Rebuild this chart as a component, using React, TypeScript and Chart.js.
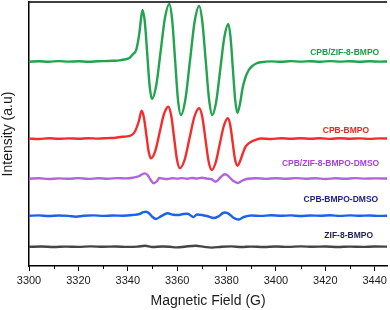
import React, { useEffect, useRef } from "react";
import { Chart, registerables } from "chart.js";

Chart.register(...registerables);

// ---- Data (Magnetic field in G, intensity in arbitrary offset units) ----
const xTicksMajor = [3300, 3320, 3340, 3360, 3380, 3400, 3420, 3440];
const xTicksMinor = [3310, 3330, 3350, 3370, 3390, 3410, 3430];

const cpbZifField = [3300, 3304, 3308, 3312, 3316, 3320, 3324, 3328, 3332, 3334, 3336.6, 3338.5, 3340.7, 3342, 3343.4, 3344.7, 3345.4, 3346, 3346.95, 3347.9, 3348.85, 3349.8, 3351.55, 3353.3, 3355.05, 3356.8, 3357.98, 3359.15, 3360.3, 3361.5, 3363.35, 3365.2, 3367.05, 3368.9, 3370.2, 3371.55, 3372.9, 3374.2, 3375.8, 3377.45, 3379.1, 3380.7, 3381.6, 3382.55, 3383.5, 3384.4, 3385.5, 3386.5, 3387.7, 3389, 3390.2, 3392, 3394, 3398, 3402, 3406, 3410, 3414, 3418, 3422, 3426, 3430, 3434, 3438, 3442, 3446];
const cpbZifSignal = [204.2, 204.8, 204.3, 204.9, 204.4, 204.7, 204.3, 204.8, 205.0, 205.2, 205.6, 206.5, 208, 211.5, 216, 233, 248, 256, 243, 211.5, 180, 167, 181, 214.5, 248, 262, 246, 206.5, 167, 151, 167, 205.5, 244, 260, 244, 205.5, 167, 151, 164.3, 196.5, 228.7, 242, 229, 197.5, 166, 153, 163, 178, 189, 196, 199.5, 202.5, 203.8, 204.6, 204.2, 204.9, 204.4, 204.8, 204.3, 204.9, 204.4, 204.8, 204.2, 204.7, 204.4, 204.6];

const cpbField = [3300, 3304, 3308, 3312, 3316, 3320, 3324, 3328, 3332, 3335, 3338, 3341.6, 3343, 3344.5, 3345.6, 3346.55, 3347.5, 3348.45, 3349.4, 3351.15, 3352.9, 3354.65, 3356.4, 3357.6, 3358.75, 3359.9, 3361.1, 3363.05, 3365, 3366.95, 3368.9, 3370.2, 3371.45, 3372.7, 3374, 3375.6, 3377.25, 3378.9, 3380.5, 3381.5, 3382.45, 3383.4, 3384.4, 3385.5, 3386.5, 3387.7, 3389.5, 3391.7, 3394, 3398, 3402, 3406, 3410, 3414, 3418, 3422, 3426, 3430, 3434, 3438, 3442, 3446];
const cpbSignal = [127.4, 127.0, 127.8, 127.2, 127.6, 127.3, 127.8, 127.4, 127.9, 128.3, 129.2, 131, 135, 145, 155.3, 148.3, 131.5, 114.6, 107.7, 115.2, 133.5, 151.8, 159.3, 150.3, 128.5, 106.7, 97.7, 106.5, 127.7, 149, 157.7, 148.7, 126.9, 105, 96, 103.5, 121.9, 140, 147.7, 140.8, 124, 107.2, 100.3, 105, 112, 119.3, 123.5, 126, 127.5, 127.0, 127.7, 127.2, 127.8, 127.3, 127.7, 127.1, 127.8, 127.3, 127.6, 127.1, 127.6, 127.4];

const cpbZifDmsoField = [3300, 3304, 3308, 3312, 3316, 3320, 3324, 3328, 3332, 3336, 3339, 3342, 3344.7, 3346, 3347, 3348, 3349.3, 3350.5, 3351.7, 3352.8, 3354.5, 3356, 3358, 3360, 3362, 3364, 3366, 3368, 3370, 3372, 3374, 3375.6, 3377.5, 3378.5, 3379.3, 3380.3, 3381.5, 3382.8, 3384.5, 3386.5, 3388.5, 3392, 3396, 3400, 3404, 3408, 3412, 3416, 3420, 3424, 3428, 3432, 3436, 3440, 3446];
const cpbZifDmsoSignal = [87.3, 87.8, 87.0, 87.6, 87.2, 87.9, 87.1, 87.7, 87.3, 87.9, 87.6, 88.3, 90, 92, 92.6, 91, 86, 82.7, 84.5, 88, 87.2, 87.0, 87.8, 87.4, 87.9, 87.2, 88.0, 87.5, 88.2, 87.4, 86.6, 84.3, 88.5, 90.8, 91.7, 90.8, 88, 85, 83, 85.5, 87.3, 87.8, 87.1, 87.8, 87.2, 87.9, 87.3, 87.7, 87.0, 87.8, 87.2, 87.9, 87.4, 87.6, 87.4];

const cpbDmsoField = [3300, 3304, 3308, 3312, 3316, 3319, 3322, 3326, 3330, 3334, 3338, 3342, 3344.7, 3346.3, 3347.4, 3348.5, 3349.8, 3351.4, 3353.5, 3356.1, 3358.5, 3360.8, 3362.5, 3364.2, 3366.6, 3368, 3370, 3372, 3374.9, 3377, 3378.3, 3379.3, 3380.4, 3381.5, 3383, 3384.7, 3387, 3390, 3394, 3398, 3402, 3406, 3410, 3414, 3418, 3422, 3426, 3430, 3434, 3438, 3442, 3446];
const cpbDmsoSignal = [50.2, 50.6, 50.0, 50.5, 50.1, 49.3, 50.2, 50.6, 50.1, 50.5, 50.3, 51, 52, 53.8, 54.3, 53, 49.5, 47, 49.8, 52.7, 51.2, 51, 52, 52.3, 49, 51.5, 51, 50, 48, 50, 52.6, 53.5, 52.8, 51, 48, 46.5, 49, 50.5, 50.1, 50.7, 50.2, 50.6, 50.0, 50.5, 50.2, 50.7, 50.1, 50.6, 50.2, 50.5, 50.1, 50.4];

const zifField = [3300, 3305, 3310, 3315, 3320, 3325, 3330, 3335, 3340, 3344, 3347, 3350, 3354, 3357, 3360, 3363, 3367.5, 3371, 3374, 3378, 3382, 3386, 3390, 3395, 3400, 3405, 3410, 3415, 3420, 3425, 3430, 3435, 3440, 3446];
const zifSignal = [19.2, 19.5, 19.0, 19.4, 19.1, 19.6, 19.2, 19.5, 19.1, 19.4, 20.2, 19.0, 19.5, 19.2, 18.6, 19.3, 20.3, 19.1, 18.4, 19.3, 19.6, 19.0, 19.4, 19.0, 19.5, 19.1, 19.6, 19.2, 19.5, 19.0, 19.4, 19.1, 19.5, 19.3];

const seriesNames = ["CPB/ZIF-8-BMPO", "CPB-BMPO", "CPB/ZIF-8-BMPO-DMSO", "CPB-BMPO-DMSO", "ZIF-8-BMPO"];
const seriesFields = [cpbZifField, cpbField, cpbZifDmsoField, cpbDmsoField, zifField];
const seriesSignals = [cpbZifSignal, cpbSignal, cpbZifDmsoSignal, cpbDmsoSignal, zifSignal];
const lineColors = ["#22a34e", "#f42c2c", "#b263df", "#1a63e8", "#454545"];
const labelColors = ["#1d9c47", "#f02424", "#ad3fd6", "#1c1c8a", "#1e1e52"];
// label anchor (field, intensity) – right end of each text
const labelFields = [3441.8, 3437.7, 3441.8, 3441.4, 3439.3];
const labelSignals = [213, 135, 102, 66, 30];

export default function App() {
  const ref = useRef<HTMLCanvasElement | null>(null);

  useEffect(() => {
    document.body.style.margin = "0";
    const canvas = ref.current;
    if (!canvas) return;
    const fontFam = "'Liberation Sans', Arial, Helvetica, sans-serif";
    Chart.defaults.font.family = fontFam;

    const extrasPlugin = {
      id: "extras",
      afterDraw(chart: any) {
        const { ctx, chartArea, scales } = chart;
        const xs = scales.x;
        const ys = scales.y;
        ctx.save();
        // top frame line
        ctx.strokeStyle = "#000";
        ctx.lineWidth = 1.5;
        ctx.beginPath();
        ctx.moveTo(chartArea.left, chartArea.top);
        ctx.lineTo(chartArea.right, chartArea.top);
        ctx.stroke();
        // minor ticks
        ctx.lineWidth = 1;
        for (const v of xTicksMinor) {
          const px = Math.round(xs.getPixelForValue(v)) + 0.5;
          ctx.beginPath();
          ctx.moveTo(px, chartArea.bottom);
          ctx.lineTo(px, chartArea.bottom + 3);
          ctx.stroke();
        }
        // labels
        ctx.font = "bold 8.5px " + fontFam;
        ctx.textAlign = "right";
        ctx.textBaseline = "middle";
        for (let i = 0; i < seriesNames.length; i++) {
          ctx.fillStyle = labelColors[i];
          ctx.fillText(seriesNames[i], xs.getPixelForValue(labelFields[i]), ys.getPixelForValue(labelSignals[i]));
        }
        ctx.restore();
      },
    };

    const chart = new Chart(canvas, {
      type: "line",
      data: {
        datasets: seriesNames.map((name, i) => ({
          label: name,
          data: seriesFields[i].map((f, j) => ({ x: f, y: seriesSignals[i][j] })),
          borderColor: lineColors[i],
          backgroundColor: lineColors[i],
          borderWidth: 2.4,
          pointRadius: 0,
          cubicInterpolationMode: "monotone" as const,
          fill: false,
        })),
      },
      options: {
        responsive: false,
        animation: false,
        devicePixelRatio: 1,
        layout: { padding: { top: 2, right: 1, left: 0, bottom: 0 } },
        plugins: { legend: { display: false }, tooltip: { enabled: false } },
        scales: {
          x: {
            type: "linear",
            min: 3300,
            max: 3445,
            afterBuildTicks: (scale: any) => {
              scale.ticks = xTicksMajor.map((v) => ({ value: v }));
            },
            ticks: {
              includeBounds: false,
              autoSkip: false,
              maxRotation: 0,
              minRotation: 0,
              padding: 3,
              color: "#1a1a1a",
              font: { size: 11 },
              callback: (v: any) => String(v),
            },
            grid: { drawOnChartArea: false, drawTicks: true, tickLength: 5, tickColor: "#000", tickWidth: 1 },
            border: { display: true, color: "#000", width: 1.5 },
            title: { display: true, text: "Magnetic Field (G)", color: "#1a1a1a", font: { size: 14 }, padding: { top: 0, bottom: 0 } },
            afterFit: (scale: any) => {
              scale.height = 44;
            },
          },
          y: {
            type: "linear",
            min: 0,
            max: 264,
            ticks: { display: false },
            grid: { drawOnChartArea: false, drawTicks: false },
            border: { display: true, color: "#000", width: 1.5 },
            title: { display: true, text: "Intensity (a.u)", color: "#1a1a1a", font: { size: 14 }, padding: { top: 0, bottom: 0 } },
            afterFit: (scale: any) => {
              scale.width = 29;
            },
          },
        },
      },
      plugins: [extrasPlugin],
    });
    return () => chart.destroy();
  }, []);

  return (
    <div style={{ position: "absolute", left: 0, top: 0, width: 390, height: 310 }}>
      <canvas ref={ref} width={390} height={310} style={{ width: 390, height: 310 }} />
    </div>
  );
}
